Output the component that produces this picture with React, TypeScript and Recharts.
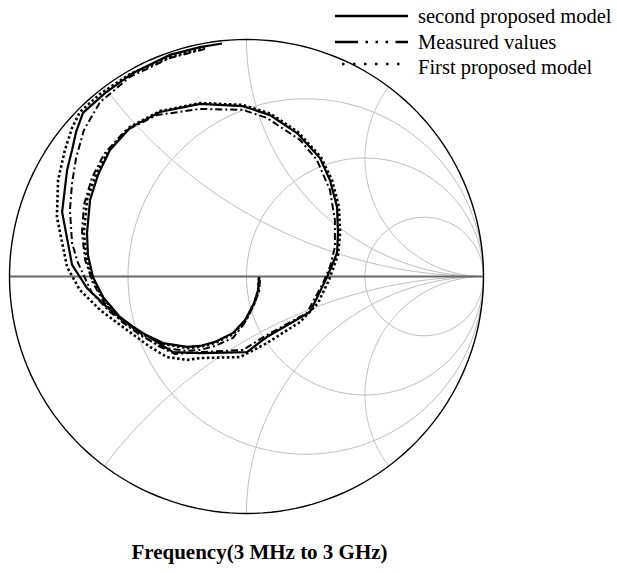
import React from "react";
import { ComposedChart, Line, XAxis, YAxis } from "recharts";

type Pt = [number, number];

// reflection coefficient (re, im)
const secondModel: Pt[] = [
  [0.053, -0.002], [0.049, -0.057], [0.032, -0.112], [-0.006, -0.184], [-0.057, -0.238],
  [-0.133, -0.276], [-0.196, -0.293], [-0.251, -0.297], [-0.352, -0.281], [-0.449, -0.234],
  [-0.534, -0.171], [-0.605, -0.087], [-0.648, -0.002], [-0.669, 0.091], [-0.673, 0.184],
  [-0.66, 0.323], [-0.627, 0.428], [-0.576, 0.534], [-0.492, 0.627], [-0.365, 0.694],
  [-0.196, 0.728], [-0.015, 0.719], [0.099, 0.681], [0.213, 0.605], [0.31, 0.5],
  [0.352, 0.407], [0.382, 0.293], [0.386, 0.184], [0.382, 0.099], [0.34, -0.002],
  [0.268, -0.15], [0.086, -0.255], [0.002, -0.319], [-0.196, -0.323], [-0.31, -0.319],
  [-0.378, -0.276], [-0.479, -0.212], [-0.589, -0.129], [-0.673, -0.049], [-0.736, 0.049],
  [-0.778, 0.272], [-0.757, 0.449], [-0.736, 0.534], [-0.719, 0.61], [-0.69, 0.69],
  [-0.597, 0.774], [-0.479, 0.859], [-0.323, 0.935], [-0.196, 0.968], [-0.103, 0.983],
];

const measured: Pt[] = [
  [0.057, -0.015], [0.053, -0.065], [0.027, -0.129], [-0.011, -0.2], [-0.057, -0.259],
  [-0.133, -0.293], [-0.196, -0.31], [-0.251, -0.314], [-0.344, -0.302], [-0.437, -0.255],
  [-0.525, -0.192], [-0.601, -0.108], [-0.648, -0.027], [-0.681, 0.07], [-0.694, 0.184],
  [-0.686, 0.302], [-0.652, 0.416], [-0.601, 0.517], [-0.513, 0.614], [-0.378, 0.681],
  [-0.196, 0.707], [-0.015, 0.703], [0.086, 0.669], [0.226, 0.576], [0.297, 0.492],
  [0.352, 0.365], [0.373, 0.238], [0.373, 0.124], [0.352, 0.04], [0.323, -0.027],
  [0.255, -0.154], [0.086, -0.247], [-0.015, -0.31], [-0.196, -0.319], [-0.302, -0.327],
  [-0.365, -0.297], [-0.47, -0.23], [-0.576, -0.15], [-0.652, -0.07], [-0.711, 0.057],
  [-0.736, 0.141], [-0.745, 0.281], [-0.736, 0.395], [-0.719, 0.5], [-0.686, 0.618],
  [-0.618, 0.736], [-0.492, 0.842], [-0.323, 0.922], [-0.175, 0.96],
];

const firstModel: Pt[] = [
  [0.053, -0.006], [0.049, -0.061], [0.032, -0.116], [-0.002, -0.184], [-0.057, -0.243],
  [-0.133, -0.281], [-0.196, -0.297], [-0.251, -0.302], [-0.352, -0.285], [-0.449, -0.238],
  [-0.534, -0.175], [-0.605, -0.091], [-0.652, -0.006], [-0.677, 0.091], [-0.686, 0.184],
  [-0.673, 0.323], [-0.635, 0.432], [-0.58, 0.534], [-0.492, 0.631], [-0.365, 0.698],
  [-0.196, 0.732], [-0.015, 0.724], [0.103, 0.686], [0.217, 0.61], [0.314, 0.504],
  [0.361, 0.407], [0.39, 0.293], [0.395, 0.184], [0.386, 0.091], [0.348, -0.015],
  [0.302, -0.112], [0.226, -0.192], [0.086, -0.281], [-0.027, -0.34], [-0.196, -0.344],
  [-0.251, -0.352], [-0.335, -0.34], [-0.407, -0.297], [-0.504, -0.226], [-0.618, -0.141],
  [-0.703, -0.057], [-0.757, 0.04], [-0.8, 0.251], [-0.795, 0.407], [-0.766, 0.534],
  [-0.736, 0.627], [-0.703, 0.694], [-0.618, 0.77], [-0.492, 0.854], [-0.323, 0.926],
  [-0.175, 0.964],
];

// smith chart grid values
const resistanceValues = [1 / 3, 1, 3];
const reactanceValues = [0.5, 1, 2];

const toRows = (pts: Pt[]) => pts.map(([x, y]) => ({ x, y }));

// constant-resistance circle
const rCircle = (r: number) => {
  const cx = r / (r + 1);
  const rad = 1 / (r + 1);
  const out = [];
  for (let i = 0; i <= 180; i++) {
    const t = (i / 180) * 2 * Math.PI;
    out.push({ x: cx + rad * Math.cos(t), y: rad * Math.sin(t) });
  }
  return out;
};

// constant-reactance arc, z = r + jx for r in [0, inf)
const xArc = (x: number) => {
  const out = [];
  for (let i = 0; i < 150; i++) {
    const r = Math.tan((i / 150) * (Math.PI / 2));
    const d = (r + 1) * (r + 1) + x * x;
    out.push({ x: (r * r - 1 + x * x) / d, y: (2 * x) / d });
  }
  out.push({ x: 1, y: 0 });
  return out;
};

const serif = "'Times New Roman', 'Liberation Serif', serif";

const legendRows = [
  { name: "second proposed model", y: 16, ty: 22.5, dash: undefined as string | undefined, x0: 335 },
  { name: "Measured values", y: 42, ty: 48.5, dash: "23 7.5 2.5 7.5 2.5 7.5 2.5 7.5 40", x0: 335 },
  { name: "First proposed model", y: 64, ty: 74, dash: "2.5 8.5", x0: 342 },
];

export default function App() {
  const grid: { key: string; data: { x: number; y: number }[] }[] = [];
  resistanceValues.forEach((r) => grid.push({ key: "r" + r, data: rCircle(r) }));
  reactanceValues.forEach((x) => {
    grid.push({ key: "xp" + x, data: xArc(x) });
    grid.push({ key: "xn" + x, data: xArc(-x) });
  });

  return (
    <div style={{ position: "absolute", left: 0, top: 0, width: 617, height: 573, background: "#fff" }}>
      <ComposedChart
        width={617}
        height={573}
        margin={{ top: 39.5, right: 133.5, bottom: 59.5, left: 9.5 }}
      >
        <XAxis type="number" dataKey="x" domain={[-1, 1]} hide />
        <YAxis type="number" dataKey="y" domain={[-1, 1]} hide />
        {grid.map((g) => (
          <Line
            key={g.key}
            data={g.data}
            dataKey="y"
            stroke="#bdbdbd"
            strokeWidth={1}
            dot={false}
            activeDot={false}
            isAnimationActive={false}
          />
        ))}
        <Line
          data={[{ x: -1, y: 0 }, { x: 1, y: 0 }]}
          dataKey="y"
          stroke="#666"
          strokeWidth={2}
          dot={false}
          activeDot={false}
          isAnimationActive={false}
        />
        <Line
          data={rCircle(0)}
          dataKey="y"
          stroke="#000"
          strokeWidth={1.4}
          dot={false}
          activeDot={false}
          isAnimationActive={false}
        />
        <Line
          data={toRows(firstModel)}
          dataKey="y"
          stroke="#000"
          strokeWidth={2.6}
          strokeDasharray="2.5 2.5"
          dot={false}
          activeDot={false}
          isAnimationActive={false}
        />
        <Line
          data={toRows(measured)}
          dataKey="y"
          stroke="#000"
          strokeWidth={2}
          strokeDasharray="7 3 2 3"
          dot={false}
          activeDot={false}
          isAnimationActive={false}
        />
        <Line
          data={toRows(secondModel)}
          dataKey="y"
          stroke="#000"
          strokeWidth={2.2}
          dot={false}
          activeDot={false}
          isAnimationActive={false}
        />
      </ComposedChart>
      <svg
        width={617}
        height={573}
        style={{ position: "absolute", left: 0, top: 0, pointerEvents: "none" }}
      >
        {legendRows.map((row) => (
          <g key={row.name}>
            <line
              x1={row.x0}
              x2={408}
              y1={row.y}
              y2={row.y}
              stroke="#000"
              strokeWidth={2.6}
              strokeDasharray={row.dash}
            />
            <text x={418} y={row.ty} fontFamily={serif} fontSize={20.5} fill="#000">
              {row.name}
            </text>
          </g>
        ))}
        <text
          x={259.5}
          y={559}
          textAnchor="middle"
          fontFamily={serif}
          fontSize={21}
          fontWeight="bold"
          fill="#000"
        >
          Frequency(3 MHz to 3 GHz)
        </text>
      </svg>
    </div>
  );
}
